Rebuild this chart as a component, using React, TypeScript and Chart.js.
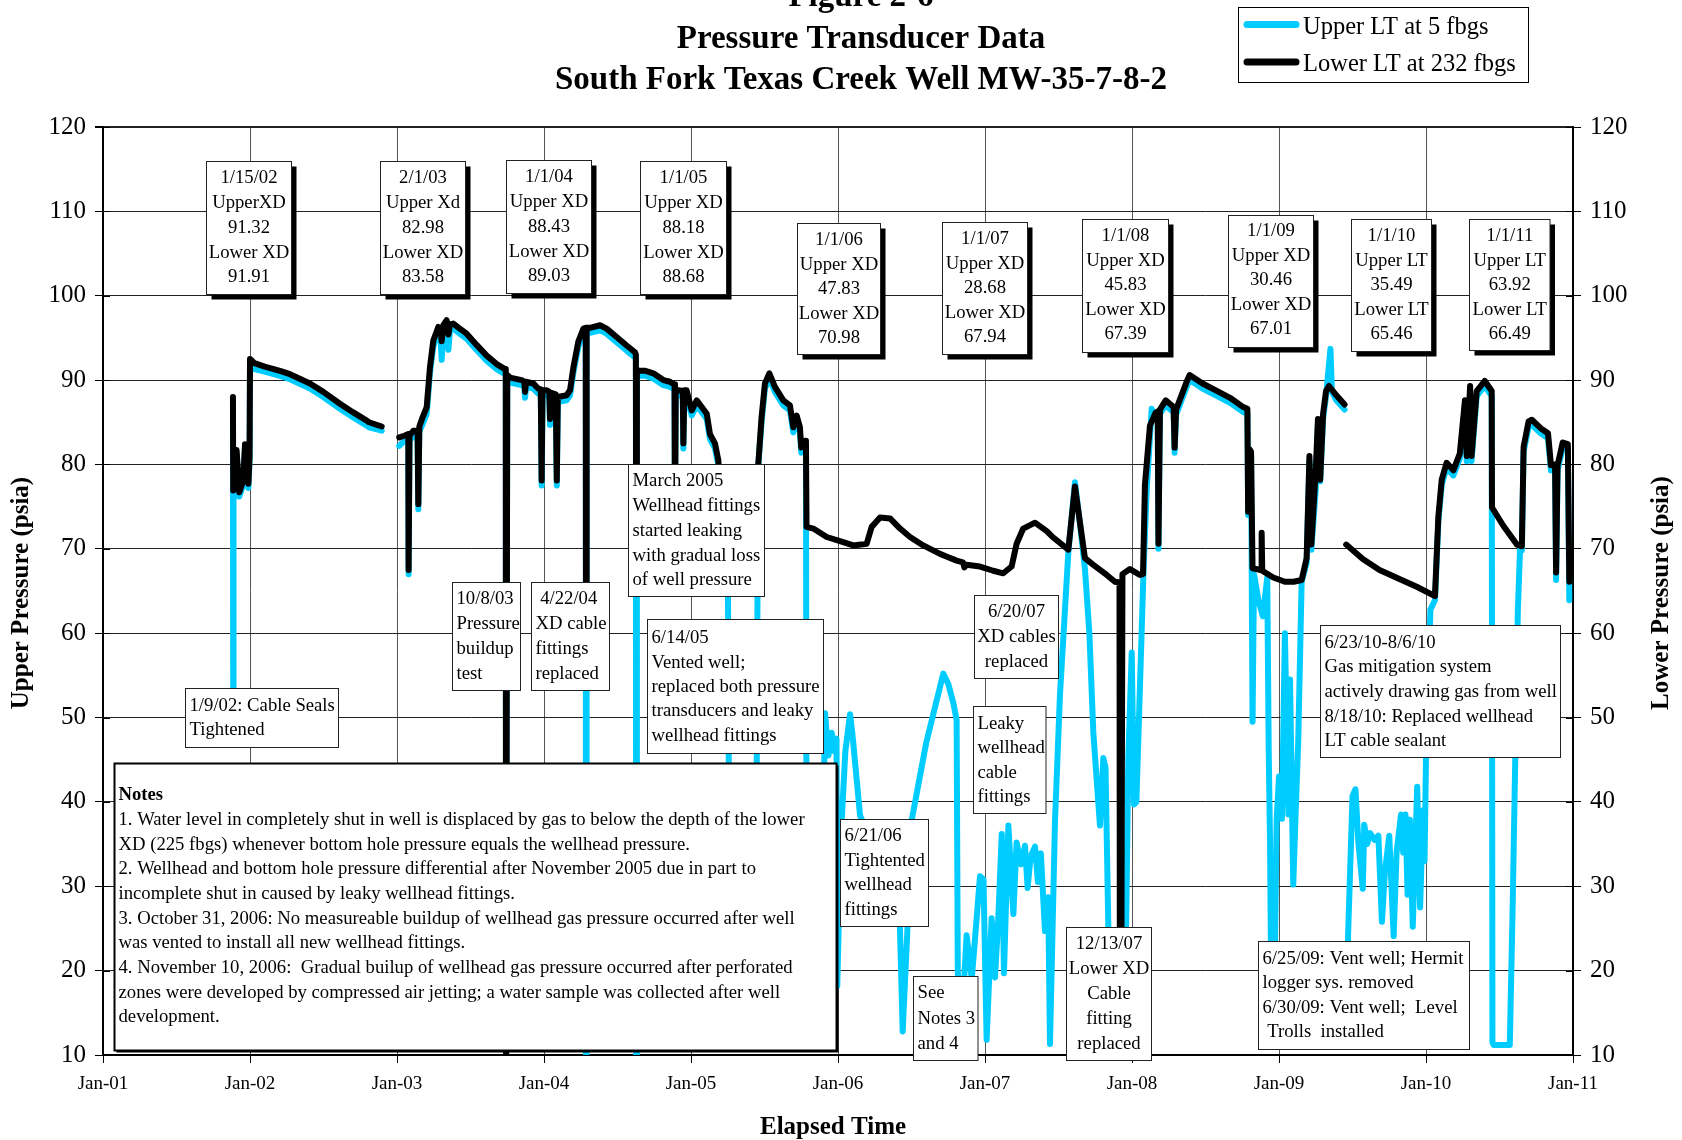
import React, { useEffect, useRef } from 'react';
import { Chart, registerables } from 'chart.js';

Chart.register(...registerables);

const FONT = '"Liberation Serif", "Times New Roman", serif';

// ---- Axis ticks ----
const xTickValues = [2001, 2002, 2003, 2004, 2005, 2006, 2007, 2008, 2009, 2010, 2011];
const xTickLabels = ['Jan-01', 'Jan-02', 'Jan-03', 'Jan-04', 'Jan-05', 'Jan-06', 'Jan-07', 'Jan-08', 'Jan-09', 'Jan-10', 'Jan-11'];
const yTickValues = [10, 20, 30, 40, 50, 60, 70, 80, 90, 100, 110, 120];

// ---- Lower LT at 232 fbgs (time in decimal years, psia) ----
const lowerA: [number, number][] = [
  [2001.884, 88.0], [2001.886, 76.9], [2001.909, 81.7], [2001.927, 76.7], [2001.954, 78.1], [2001.966, 82.4],
  [2001.989, 77.7], [2001.997, 80.9], [2002.0, 92.5], [2002.03, 92.0], [2002.1, 91.6], [2002.204, 91.1],
  [2002.272, 90.7], [2002.408, 89.6], [2002.499, 88.6], [2002.612, 87.2], [2002.7, 86.2], [2002.794, 85.2],
  [2002.81, 85.0], [2002.896, 84.5],
];
const lowerB: [number, number][] = [
  [2003.015, 83.2], [2003.05, 83.4], [2003.077, 83.6], [2003.079, 67.5], [2003.085, 83.4], [2003.111, 84.0],
  [2003.14, 84.0], [2003.145, 75.3], [2003.152, 84.5], [2003.17, 85.4], [2003.202, 86.8], [2003.224, 91.5],
  [2003.247, 94.7], [2003.281, 96.3], [2003.298, 95.6], [2003.304, 94.6], [2003.315, 96.5], [2003.338, 97.1],
  [2003.345, 96.2], [2003.35, 95.4], [2003.36, 96.6], [2003.383, 96.7], [2003.42, 96.2], [2003.474, 95.5],
  [2003.54, 94.2], [2003.61, 92.9], [2003.678, 91.9], [2003.735, 91.3], [2003.74, 91.2], [2003.742, 5],
  [2003.746, 5], [2003.75, 90.6], [2003.769, 90.3], [2003.848, 90.0], [2003.866, 89.8], [2003.871, 88.6],
  [2003.878, 89.8], [2003.927, 89.6], [2003.961, 89.0], [2003.978, 88.9], [2003.984, 78.1], [2003.99, 88.8],
  [2004.018, 88.8], [2004.036, 88.6], [2004.041, 85.4], [2004.048, 88.5], [2004.08, 88.3], [2004.087, 78.1],
  [2004.094, 88.0], [2004.154, 88.2], [2004.177, 88.8], [2004.2, 91.5], [2004.234, 94.6], [2004.268, 96.1],
  [2004.284, 96.2], [2004.286, 55], [2004.29, 96.2], [2004.313, 96.2], [2004.381, 96.5], [2004.426, 96.1],
  [2004.494, 95.1], [2004.562, 94.1], [2004.619, 93.3], [2004.625, 93.0], [2004.627, 70], [2004.632, 91.2],
  [2004.653, 91.1], [2004.69, 91.1], [2004.744, 90.8], [2004.812, 90.0], [2004.857, 89.8], [2004.888, 89.5],
  [2004.891, 72], [2004.896, 88.8], [2004.914, 88.8], [2004.944, 88.7], [2004.948, 82.5], [2004.955, 88.8],
  [2004.97, 88.8], [2005.005, 86.4], [2005.039, 87.6], [2005.073, 86.8], [2005.107, 86.0], [2005.129, 83.6],
  [2005.163, 82.5], [2005.186, 80.5], [2005.22, 70], [2005.4, 68], [2005.445, 72], [2005.458, 80.1],
  [2005.48, 85.6], [2005.503, 89.6], [2005.533, 90.8], [2005.571, 89.2], [2005.628, 87.6], [2005.673, 87.0],
  [2005.696, 84.4], [2005.719, 85.8], [2005.741, 84.4], [2005.75, 82.0], [2005.776, 82.8], [2005.782, 82.6],
  [2005.786, 72.6], [2005.832, 72.4], [2005.923, 71.4], [2006.014, 70.9], [2006.104, 70.4], [2006.195, 70.6],
  [2006.229, 72.6], [2006.286, 73.7], [2006.354, 73.6], [2006.422, 72.4], [2006.49, 71.4], [2006.58, 70.4],
  [2006.694, 69.4], [2006.75, 69.0], [2006.807, 68.6], [2006.85, 68.4], [2006.86, 67.8], [2006.875, 68.1],
  [2006.966, 67.9], [2007.056, 67.4], [2007.124, 67.1], [2007.181, 67.9], [2007.215, 70.6], [2007.26, 72.4],
  [2007.34, 73.1], [2007.42, 72.1], [2007.46, 71.4], [2007.567, 69.9], [2007.612, 77.4], [2007.646, 73.1],
  [2007.68, 68.9], [2007.737, 68.1], [2007.828, 66.9], [2007.884, 66.1], [2007.915, 66.0], [2007.918, 5],
  [2007.925, 5], [2007.935, 67.0], [2007.986, 67.6], [2008.054, 66.9], [2008.075, 67.0], [2008.088, 77.6],
  [2008.122, 84.6], [2008.16, 86.1], [2008.175, 86.3], [2008.18, 70.6], [2008.19, 86.5], [2008.229, 87.6],
  [2008.283, 86.8], [2008.29, 82.0], [2008.3, 86.5], [2008.374, 89.9], [2008.392, 90.6], [2008.48, 89.6],
  [2008.58, 88.7], [2008.667, 87.9], [2008.757, 86.8], [2008.785, 86.6], [2008.79, 74.4], [2008.8, 81.8],
  [2008.81, 81.5], [2008.82, 67.7], [2008.87, 67.5], [2008.878, 67.6], [2008.882, 71.9], [2008.886, 67.4],
  [2008.961, 66.6], [2009.04, 66.1], [2009.1, 66.1], [2009.154, 66.3], [2009.188, 68.9], [2009.207, 81.0],
  [2009.22, 70.5], [2009.25, 79.3], [2009.265, 85.4], [2009.28, 78.2], [2009.3, 86.0], [2009.32, 88.7],
  [2009.34, 89.3], [2009.39, 88.2], [2009.446, 87.1],
];
const lowerC: [number, number][] = [
  [2009.457, 70.5], [2009.57, 68.8], [2009.684, 67.5], [2009.823, 66.4], [2009.937, 65.5], [2010.061, 64.4],
  [2010.084, 73.8], [2010.107, 78.2], [2010.14, 80.2], [2010.186, 79.3], [2010.23, 81.3], [2010.265, 87.6],
  [2010.277, 81.0], [2010.3, 89.3], [2010.31, 81.0], [2010.345, 88.7], [2010.4, 89.9], [2010.447, 88.7],
  [2010.449, 74.9], [2010.527, 72.7], [2010.618, 70.5], [2010.652, 70.3], [2010.664, 82.1], [2010.698, 85.1],
  [2010.72, 85.3], [2010.78, 84.3], [2010.83, 83.7], [2010.85, 79.9], [2010.878, 80.0], [2010.885, 67.2],
  [2010.895, 79.9], [2010.93, 82.6], [2010.965, 82.4], [2010.975, 66.1],
];

// ---- Upper LT at 5 fbgs ----
const upperA: [number, number][] = [
  [2001.884, 87.4], [2001.886, 50], [2001.888, 76.3], [2001.909, 81.2], [2001.927, 76.2], [2001.954, 77.6],
  [2001.966, 81.8], [2001.989, 77.2], [2001.997, 80.4], [2002.0, 91.6], [2002.03, 91.3], [2002.1, 91.0],
  [2002.204, 90.5], [2002.272, 90.1], [2002.408, 89.0], [2002.499, 88.0], [2002.612, 86.6], [2002.7, 85.6],
  [2002.794, 84.6], [2002.81, 84.4], [2002.896, 84.0],
];
const upperB: [number, number][] = [
  [2003.015, 82.2], [2003.05, 82.8], [2003.077, 83.0], [2003.079, 67.0], [2003.085, 82.8], [2003.111, 83.4],
  [2003.14, 83.4], [2003.145, 74.7], [2003.152, 83.9], [2003.17, 84.6], [2003.202, 86.0], [2003.224, 90.8],
  [2003.247, 94.0], [2003.281, 95.7], [2003.298, 94.4], [2003.304, 92.4], [2003.315, 95.9], [2003.338, 96.5],
  [2003.345, 94.9], [2003.35, 93.6], [2003.36, 95.9], [2003.383, 96.1], [2003.42, 95.6], [2003.474, 94.9],
  [2003.54, 93.6], [2003.61, 92.3], [2003.678, 91.3], [2003.735, 90.7], [2003.74, 90.6], [2003.742, 5],
  [2003.746, 5], [2003.75, 90.0], [2003.769, 89.7], [2003.848, 89.4], [2003.866, 89.2], [2003.871, 87.9],
  [2003.878, 89.2], [2003.927, 89.0], [2003.961, 88.4], [2003.978, 88.3], [2003.984, 77.5], [2003.99, 88.2],
  [2004.018, 88.2], [2004.036, 88.0], [2004.041, 84.7], [2004.048, 87.9], [2004.08, 87.7], [2004.087, 77.5],
  [2004.094, 87.4], [2004.154, 87.6], [2004.177, 88.2], [2004.2, 90.9], [2004.234, 94.0], [2004.268, 95.5],
  [2004.284, 95.6], [2004.286, 5], [2004.29, 95.6], [2004.313, 95.6], [2004.381, 95.9], [2004.426, 95.5],
  [2004.494, 94.5], [2004.562, 93.5], [2004.619, 92.7], [2004.625, 92.4], [2004.627, 5], [2004.632, 90.6],
  [2004.653, 90.5], [2004.69, 90.5], [2004.744, 90.2], [2004.812, 89.4], [2004.857, 89.2], [2004.888, 88.9],
  [2004.891, 71], [2004.896, 88.2], [2004.914, 88.2], [2004.944, 88.1], [2004.948, 81.9], [2004.955, 88.2],
  [2004.97, 88.2], [2005.005, 85.8], [2005.039, 87.0], [2005.073, 86.2], [2005.107, 85.4], [2005.129, 83.0],
  [2005.163, 81.9], [2005.186, 79.9], [2005.25, 70], [2005.265, 15], [2005.44, 15], [2005.456, 79.5],
  [2005.48, 85.0], [2005.503, 89.0], [2005.533, 90.2], [2005.571, 88.6], [2005.628, 87.0], [2005.673, 86.4],
  [2005.696, 83.8], [2005.719, 85.2], [2005.741, 83.8], [2005.75, 81.4], [2005.776, 82.2], [2005.782, 82.0],
  [2005.786, 30], [2005.9, 38], [2005.912, 50.5], [2005.935, 45.5], [2005.957, 48.2], [2005.975, 46],
  [2005.99, 47.5], [2005.995, 18.2], [2006.02, 36], [2006.05, 46], [2006.082, 50.4], [2006.1, 47.7],
  [2006.15, 38.4], [2006.3, 32], [2006.42, 26], [2006.44, 12.8], [2006.47, 24], [2006.5, 37.7],
  [2006.6, 47], [2006.716, 55.2], [2006.75, 54], [2006.785, 51.7], [2006.807, 49.7], [2006.815, 19.7],
  [2006.84, 15], [2006.86, 19.5], [2006.875, 24.2], [2006.89, 22], [2006.91, 19], [2006.966, 31.2],
  [2006.99, 30.8], [2007.011, 11.8], [2007.045, 26.2], [2007.068, 19.2], [2007.09, 26], [2007.114, 36.2],
  [2007.129, 19.7], [2007.159, 37.2], [2007.193, 26.7], [2007.215, 35.2], [2007.245, 32.6], [2007.272, 34.8],
  [2007.29, 29.8], [2007.31, 33.5], [2007.34, 34.7], [2007.36, 30.5], [2007.38, 33.9], [2007.408, 24.7],
  [2007.43, 28.7], [2007.442, 11.3], [2007.476, 37.7], [2007.51, 52.7], [2007.567, 69.6], [2007.612, 77.9],
  [2007.646, 73.0], [2007.68, 67.6], [2007.71, 60], [2007.737, 48.2], [2007.782, 37.2], [2007.805, 45.2],
  [2007.82, 44], [2007.839, 25.2], [2007.87, 12], [2007.95, 12], [2007.975, 45.2], [2007.998, 57.7],
  [2008.014, 39.7], [2008.03, 40], [2008.077, 66.6], [2008.1, 77], [2008.134, 86.6], [2008.16, 85.5],
  [2008.175, 85.7], [2008.18, 70], [2008.19, 86.0], [2008.229, 87.0], [2008.283, 86.2], [2008.29, 81.4],
  [2008.3, 85.9], [2008.374, 89.3], [2008.392, 90.0], [2008.48, 89.0], [2008.58, 88.1], [2008.667, 87.3],
  [2008.757, 86.2], [2008.785, 86.0], [2008.79, 74], [2008.8, 81.2], [2008.81, 81.0], [2008.82, 49.5],
  [2008.83, 67], [2008.86, 63.9], [2008.89, 62], [2008.92, 66.6], [2008.93, 46.2], [2008.939, 35.2],
  [2008.95, 12], [2008.965, 12], [2008.984, 37.9], [2009.0, 43], [2009.02, 38], [2009.04, 60.0],
  [2009.064, 38.5], [2009.075, 54.5], [2009.097, 30.2], [2009.11, 37], [2009.131, 47.3], [2009.154, 66.1],
  [2009.188, 68.3], [2009.207, 80.4], [2009.22, 69.9], [2009.25, 77.1], [2009.265, 84.8], [2009.28, 78],
  [2009.3, 85.4], [2009.32, 88.1], [2009.35, 93.7], [2009.36, 88.6], [2009.39, 87.6], [2009.446, 86.5],
];
const upperC: [number, number][] = [
  [2009.465, 15], [2009.47, 24.2], [2009.5, 40.7], [2009.52, 41.5], [2009.54, 35.2], [2009.57, 29.7],
  [2009.58, 37.3], [2009.6, 35], [2009.62, 36.3], [2009.65, 35.5], [2009.676, 36.0], [2009.7, 25.8],
  [2009.72, 31.6], [2009.75, 36.0], [2009.78, 24.1], [2009.8, 34], [2009.83, 38.5], [2009.845, 34],
  [2009.86, 38.5], [2009.875, 29], [2009.89, 37.9], [2009.91, 25.2], [2009.94, 41.8], [2009.96, 27.5],
  [2009.98, 39.0], [2009.99, 33], [2010.0, 45.1], [2010.03, 62.8], [2010.061, 63.9], [2010.084, 73.2],
  [2010.107, 77.6], [2010.14, 79.6], [2010.186, 78.7], [2010.23, 80.7], [2010.265, 87.0], [2010.277, 80.4],
  [2010.3, 88.7], [2010.31, 80.4], [2010.345, 88.1], [2010.4, 89.3], [2010.447, 88.1], [2010.452, 11.5],
  [2010.46, 11.2], [2010.57, 11.2], [2010.59, 28.0], [2010.625, 62.8], [2010.64, 70.0], [2010.652, 69.8],
  [2010.664, 81.5], [2010.698, 84.5], [2010.72, 84.7], [2010.78, 83.7], [2010.83, 83.1], [2010.85, 79.3],
  [2010.878, 79.4], [2010.885, 66.3], [2010.895, 79.3], [2010.93, 82.0], [2010.965, 81.8], [2010.975, 63.9],
];

// ---- Annotation boxes (anchored at top-left in data units: decimal year, psia) ----
type Box = {
  x: number; y: number; w: number; h: number; lines: string[];
  align?: 'left' | 'center'; first: number; step: number; shadow?: number; border?: number; boldFirst?: boolean;
};
const calloutBoxes: Box[] = [
  { x: 2001.704, y: 115.95, w: 85, h: 133, lines: ['1/15/02', 'UpperXD', '91.32', 'Lower XD', '91.91'], align: 'center', first: 17, step: 24.75, shadow: 5 },
  { x: 2002.884, y: 115.92, w: 85, h: 133, lines: ['2/1/03', 'Upper Xd', '82.98', 'Lower XD', '83.58'], align: 'center', first: 17, step: 24.75, shadow: 5 },
  { x: 2003.741, y: 116.07, w: 85, h: 133, lines: ['1/1/04', 'Upper XD', '88.43', 'Lower XD', '89.03'], align: 'center', first: 17, step: 24.75, shadow: 5 },
  { x: 2004.653, y: 115.92, w: 86, h: 133, lines: ['1/1/05', 'Upper XD', '88.18', 'Lower XD', '88.68'], align: 'center', first: 17, step: 24.75, shadow: 5 },
  { x: 2005.721, y: 108.6, w: 83, h: 131, lines: ['1/1/06', 'Upper XD', '47.83', 'Lower XD', '70.98'], align: 'center', first: 17, step: 24.5, shadow: 5 },
  { x: 2006.71, y: 108.72, w: 85, h: 132, lines: ['1/1/07', 'Upper XD', '28.68', 'Lower XD', '67.94'], align: 'center', first: 17, step: 24.5, shadow: 5 },
  { x: 2007.663, y: 109.04, w: 86, h: 133, lines: ['1/1/08', 'Upper XD', '45.83', 'Lower XD', '67.39'], align: 'center', first: 17, step: 24.5, shadow: 5 },
  { x: 2008.655, y: 109.6, w: 85, h: 132, lines: ['1/1/09', 'Upper XD', '30.46', 'Lower XD', '67.01'], align: 'center', first: 16, step: 24.5, shadow: 5 },
  { x: 2009.488, y: 109.07, w: 80, h: 132, lines: ['1/1/10', 'Upper LT', '35.49', 'Lower LT', '65.46'], align: 'center', first: 17, step: 24.5, shadow: 5 },
  { x: 2010.294, y: 109.07, w: 80.5, h: 131, lines: ['1/1/11', 'Upper LT', '63.92', 'Lower LT', '66.49'], align: 'center', first: 17, step: 24.5, shadow: 5 },
];
const eventBoxes: Box[] = [
  { x: 2001.558, y: 53.56, w: 153, h: 59, lines: ['1/9/02: Cable Seals', 'Tightened'], first: 18, step: 24 },
  { x: 2003.374, y: 66.05, w: 68, h: 108, lines: ['10/8/03', 'Pressure', 'buildup', 'test'], first: 16.5, step: 25 },
  { x: 2003.912, y: 66.05, w: 78, h: 108, lines: [' 4/22/04', 'XD cable', 'fittings', 'replaced'], first: 16.5, step: 25 },
  { x: 2004.569, y: 80.08, w: 136, h: 132, lines: ['March 2005', 'Wellhead fittings', 'started leaking', 'with gradual loss', 'of well pressure'], first: 17, step: 24.75 },
  { x: 2004.704, y: 61.74, w: 176, h: 134, lines: ['6/14/05', 'Vented well;', 'replaced both pressure', 'transducers and leaky', 'wellhead fittings'], first: 19, step: 24.3 },
  { x: 2006.925, y: 64.47, w: 84, h: 83, lines: ['6/20/07', 'XD cables', 'replaced'], align: 'center', first: 17, step: 25 },
  { x: 2006.918, y: 51.31, w: 72.5, h: 107, lines: ['Leaky', 'wellhead', 'cable', 'fittings'], first: 17.3, step: 24.5 },
  { x: 2006.014, y: 37.94, w: 88, h: 107, lines: ['6/21/06', 'Tightented', 'wellhead', 'fittings'], first: 17, step: 24.5 },
  { x: 2006.513, y: 19.42, w: 64.5, h: 84, lines: ['See', 'Notes 3', 'and 4'], first: 16.7, step: 25.5 },
  { x: 2007.553, y: 25.23, w: 85, h: 133, lines: ['12/13/07', 'Lower XD', 'Cable', 'fitting', 'replaced'], align: 'center', first: 16.7, step: 25 },
  { x: 2008.856, y: 23.57, w: 211, h: 108, lines: ['6/25/09: Vent well; Hermit', 'logger sys. removed', '6/30/09: Vent well;  Level', ' Trolls  installed'], first: 17.3, step: 24.5 },
  { x: 2009.279, y: 61.0, w: 240, h: 132, lines: ['6/23/10-8/6/10', 'Gas mitigation system', 'actively drawing gas from well', '8/18/10: Replaced wellhead', 'LT cable sealant'], first: 17.4, step: 24.6 },
  {
    x: 2001.073, y: 44.59, w: 722, h: 287, first: 32, step: 24.67, shadow: 2, border: 2, boldFirst: true,
    lines: [
      'Notes',
      '1. Water level in completely shut in well is displaced by gas to below the depth of the lower',
      'XD (225 fbgs) whenever bottom hole pressure equals the wellhead pressure.',
      '2. Wellhead and bottom hole pressure differential after November 2005 due in part to',
      'incomplete shut in caused by leaky wellhead fittings.',
      '3. October 31, 2006: No measureable buildup of wellhead gas pressure occurred after well',
      'was vented to install all new wellhead fittings.',
      '4. November 10, 2006:  Gradual builup of wellhead gas pressure occurred after perforated',
      'zones were developed by compressed air jetting; a water sample was collected after well',
      'development.',
    ],
  },
];

const UPPER_COLOR = '#00CCFF';
const LOWER_COLOR = '#000000';

function toPoints(segments: [number, number][][]) {
  const out: { x: number; y: number | null }[] = [];
  segments.forEach((seg, i) => {
    if (i > 0) out.push({ x: seg[0][0] - 0.002, y: null });
    seg.forEach(([x, y]) => out.push({ x, y }));
  });
  return out;
}

function drawBox(ctx: CanvasRenderingContext2D, chart: any, b: Box) {
  const xs = chart.scales.x;
  const ys = chart.scales.y;
  const L = Math.round(xs.getPixelForValue(b.x)) + 0.5;
  const T = Math.round(ys.getPixelForValue(b.y)) + 0.5;
  if (b.shadow) {
    ctx.fillStyle = '#000';
    ctx.fillRect(L + b.shadow, T + b.shadow, b.w, b.h);
  }
  ctx.fillStyle = '#fff';
  ctx.fillRect(L, T, b.w, b.h);
  ctx.lineWidth = b.border || 1;
  ctx.strokeStyle = b.border ? '#000' : '#222';
  ctx.strokeRect(L, T, b.w, b.h);
  ctx.fillStyle = '#000';
  ctx.textBaseline = 'middle';
  b.lines.forEach((line, i) => {
    ctx.font = `${b.boldFirst && i === 0 ? 'bold ' : ''}18.7px ${FONT}`;
    const y = T + b.first + i * b.step;
    if (b.align === 'center') {
      ctx.textAlign = 'center';
      ctx.fillText(line, L + b.w / 2, y);
    } else {
      ctx.textAlign = 'left';
      ctx.fillText(line, L + 4, y);
    }
  });
}

const overlayPlugin = {
  id: 'overlay',
  afterDatasetsDraw(chart: any) {
    const ctx: CanvasRenderingContext2D = chart.ctx;
    ctx.save();
    [...calloutBoxes, ...eventBoxes].forEach((b) => drawBox(ctx, chart, b));
    ctx.restore();
  },
  afterDraw(chart: any) {
    const ctx: CanvasRenderingContext2D = chart.ctx;
    const area = chart.chartArea;
    ctx.save();
    // tick marks crossing into the plot on both value axes
    ctx.strokeStyle = '#000';
    ctx.lineWidth = 1;
    const ys = chart.scales.y;
    yTickValues.forEach((v) => {
      const py = Math.round(ys.getPixelForValue(v)) + 0.5;
      ctx.beginPath();
      ctx.moveTo(area.left, py); ctx.lineTo(area.left + 7, py);
      ctx.moveTo(area.right - 7, py); ctx.lineTo(area.right, py);
      ctx.stroke();
    });

    // Titles
    ctx.fillStyle = '#000';
    ctx.textAlign = 'center';
    ctx.textBaseline = 'alphabetic';
    ctx.font = `bold 33px ${FONT}`;
    ctx.fillText('Figure 2-6', 861, 6);
    ctx.fillText('Pressure Transducer Data', 861, 47.5);
    ctx.fillText('South Fork Texas Creek Well MW-35-7-8-2', 861, 89);

    // Axis titles
    ctx.font = `bold 25px ${FONT}`;
    ctx.save();
    ctx.translate(28, 593);
    ctx.rotate(-Math.PI / 2);
    ctx.fillText('Upper Pressure (psia)', 0, 0);
    ctx.restore();
    ctx.save();
    ctx.translate(1668, 593);
    ctx.rotate(-Math.PI / 2);
    ctx.fillText('Lower Pressure (psia)', 0, 0);
    ctx.restore();
    ctx.fillText('Elapsed Time', 833, 1134);

    // Legend
    ctx.fillStyle = '#fff';
    ctx.fillRect(1238.5, 7.5, 290, 75);
    ctx.lineWidth = 1;
    ctx.strokeStyle = '#000';
    ctx.strokeRect(1238.5, 7.5, 290, 75);
    ctx.lineCap = 'round';
    ctx.lineWidth = 7;
    ctx.strokeStyle = UPPER_COLOR;
    ctx.beginPath(); ctx.moveTo(1247, 24.5); ctx.lineTo(1296, 24.5); ctx.stroke();
    ctx.strokeStyle = LOWER_COLOR;
    ctx.beginPath(); ctx.moveTo(1247, 62); ctx.lineTo(1296, 62); ctx.stroke();
    ctx.fillStyle = '#000';
    ctx.textAlign = 'left';
    ctx.textBaseline = 'alphabetic';
    ctx.font = `24.5px ${FONT}`;
    ctx.fillText('Upper LT at 5 fbgs', 1303, 33.5);
    ctx.fillText('Lower LT at 232 fbgs', 1303, 71);
    ctx.restore();
  },
};

export default function App() {
  const canvasRef = useRef<HTMLCanvasElement | null>(null);

  useEffect(() => {
    document.body.style.margin = '0';
    const canvas = canvasRef.current;
    if (!canvas) return;
    const yAxisCommon = {
      type: 'linear' as const,
      min: 10,
      max: 120,
      afterBuildTicks: (axis: any) => { axis.ticks = yTickValues.map((v) => ({ value: v })); },
      ticks: { font: { family: FONT, size: 25 }, color: '#000', padding: 9 },
      border: { display: true, color: '#000', width: 2 },
    };
    const chart = new Chart(canvas, {
      type: 'line',
      data: {
        datasets: [
          {
            label: 'Upper LT at 5 fbgs',
            data: toPoints([upperA, upperB, upperC]) as any,
            borderColor: UPPER_COLOR,
            borderWidth: 6,
            pointRadius: 0,
            tension: 0,
            spanGaps: false,
            borderJoinStyle: 'round',
            borderCapStyle: 'round',
            order: 1,
            yAxisID: 'y',
          },
          {
            label: 'Lower LT at 232 fbgs',
            data: toPoints([lowerA, lowerB, lowerC]) as any,
            borderColor: LOWER_COLOR,
            borderWidth: 6,
            pointRadius: 0,
            tension: 0,
            spanGaps: false,
            borderJoinStyle: 'round',
            borderCapStyle: 'round',
            order: 0,
            yAxisID: 'y',
          },
        ],
      },
      options: {
        responsive: false,
        animation: false,
        events: [],
        layout: { padding: { top: 127, left: 0, right: 0, bottom: 0 } },
        plugins: { legend: { display: false }, tooltip: { enabled: false }, title: { display: false } },
        scales: {
          x: {
            type: 'linear',
            min: 2001,
            max: 2011,
            afterBuildTicks: (axis: any) => { axis.ticks = xTickValues.map((v) => ({ value: v })); },
            afterFit: (axis: any) => { axis.height = 85; },
            ticks: {
              autoSkip: false,
              maxRotation: 0,
              padding: 10,
              color: '#000',
              font: { family: FONT, size: 19 },
              callback: (v: any) => xTickLabels[xTickValues.indexOf(Number(v))] ?? '',
            },
            grid: { color: '#555', lineWidth: 1, tickLength: 8, tickColor: '#000' },
            border: { display: true, color: '#000', width: 2 },
          },
          y: {
            ...yAxisCommon,
            position: 'left',
            afterFit: (axis: any) => { axis.width = 103; },
            grid: {
              color: '#222',
              lineWidth: (c: any) => (c.tick && c.tick.value === 120 ? 2 : 1),
              tickLength: 8,
              tickColor: '#000',
            },
          },
          y2: {
            ...yAxisCommon,
            position: 'right',
            afterFit: (axis: any) => { axis.width = 109; },
            grid: { drawOnChartArea: false, tickLength: 8, tickColor: '#000', color: '#000' },
          },
        },
      },
      plugins: [overlayPlugin],
    });
    return () => chart.destroy();
  }, []);

  return (
    <div style={{ width: 1682, height: 1140, background: '#fff' }}>
      <canvas ref={canvasRef} width={1682} height={1140} style={{ display: 'block' }} />
    </div>
  );
}
